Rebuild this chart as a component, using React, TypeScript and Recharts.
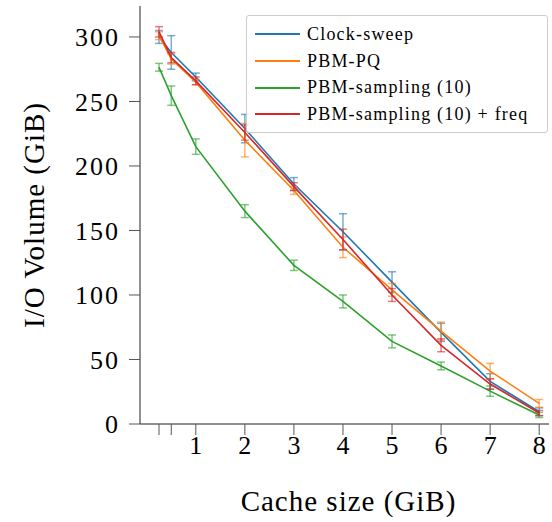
import { LineChart, Line, XAxis, YAxis, ErrorBar } from 'recharts';

// cache size in GiB
const cacheSizes = [0.25, 0.5, 1, 2, 3, 4, 5, 6, 7, 8];

// I/O volume (GiB), mean and error per cache size
const clockSweep = [300, 288, 269, 229, 186, 149, 110, 71, 33, 9.5];
const clockSweepErr = [5, 13, 3, 11, 5, 14, 8, 7, 6, 3];
const pbmPq = [301, 283, 265, 220, 181, 137, 104, 72, 41, 16];
const pbmPqErr = [3, 4, 2, 13, 3, 8, 5, 7, 6, 3];
const pbmSampling = [276.5, 254.5, 215, 165, 123, 95, 64, 45, 25.5, 7];
const pbmSamplingErr = [3, 7.5, 6, 5, 4, 5, 5, 3, 4, 2];
const pbmSamplingFreq = [304, 284, 266, 226, 184, 143, 100, 61, 31, 8.5];
const pbmSamplingFreqErr = [4, 4, 3, 6, 3, 8, 5, 5, 4, 2];

const xTicks = [0.25, 0.5, 1, 2, 3, 4, 5, 6, 7, 8];
const yTicks = [0, 50, 100, 150, 200, 250, 300];

const series = [
  { key: 'clock', name: 'Clock-sweep', color: '#1f77b4', values: clockSweep, err: clockSweepErr },
  { key: 'pq', name: 'PBM-PQ', color: '#ff7f0e', values: pbmPq, err: pbmPqErr },
  { key: 'sampling', name: 'PBM-sampling (10)', color: '#2ca02c', values: pbmSampling, err: pbmSamplingErr },
  { key: 'freq', name: 'PBM-sampling (10) + freq', color: '#d62728', values: pbmSamplingFreq, err: pbmSamplingFreqErr },
];

const data = cacheSizes.map((size, i) => {
  const row: Record<string, number> = { size };
  series.forEach((s) => {
    row[s.key] = s.values[i];
    row[s.key + 'Err'] = s.err[i];
  });
  return row;
});

const font = "'Liberation Serif', 'Times New Roman', serif";

const App = () => (
  <div style={{ position: 'absolute', left: 0, top: 0, width: 552, height: 522, background: '#fff' }}>
    <LineChart
      width={552}
      height={522}
      data={data}
      margin={{ top: 6, right: 3, left: 0, bottom: 0 }}
    >
      <XAxis
        dataKey="size"
        type="number"
        domain={[-0.1375, 8.2]}
        allowDataOverflow
        ticks={xTicks}
        interval={0}
        tickFormatter={(v: number) => (v < 1 ? '' : String(v))}
        tickSize={11}
        tickMargin={1}
        height={98}
        tick={{ fontFamily: font, fontSize: 26, fill: '#000' }}
        tickLine={{ stroke: '#555' }}
        axisLine={{ stroke: '#222' }}
        label={{
          value: 'Cache size (GiB)',
          position: 'insideBottom',
          offset: 11,
          dx: 4,
          style: { fontFamily: font, fontSize: 29, letterSpacing: 1, fill: '#000' },
        }}
      />
      <XAxis
        xAxisId="top"
        dataKey="size"
        type="number"
        orientation="top"
        domain={[-0.1375, 8.2]}
        height={0}
        tick={false}
        tickLine={false}
        axisLine={{ stroke: '#222' }}
      />
      <YAxis
        type="number"
        domain={[0, 324]}
        allowDataOverflow
        ticks={yTicks}
        interval={0}
        width={140}
        tickSize={11}
        tickMargin={9}
        tick={{ fontFamily: font, fontSize: 26, letterSpacing: 2, fill: '#000' }}
        tickLine={{ stroke: '#555' }}
        axisLine={{ stroke: '#222' }}
        label={{
          value: 'I/O Volume (GiB)',
          angle: -90,
          position: 'insideLeft',
          offset: 34,
          style: { fontFamily: font, fontSize: 29, letterSpacing: 1, fill: '#000', textAnchor: 'middle' },
        }}
      />
      {series.map((s) => (
        <Line
          key={s.key}
          dataKey={s.key}
          name={s.name}
          stroke={s.color}
          strokeWidth={1.6}
          dot={false}
          activeDot={false}
          isAnimationActive={false}
        >
          <ErrorBar
            dataKey={s.key + 'Err'}
            direction="y"
            width={4}
            stroke={s.color}
            strokeWidth={1.5}
            strokeOpacity={0.6}
          />
        </Line>
      ))}
    </LineChart>
    <div
      style={{
        position: 'absolute',
        left: 246,
        top: 15,
        width: 302,
        height: 118,
        boxSizing: 'border-box',
        border: '1px solid #ccc',
        borderRadius: 3,
        background: 'rgba(255,255,255,0.8)',
        padding: '5px 0 0 8px',
        fontFamily: font,
        fontSize: 18,
        letterSpacing: 1.2,
        color: '#000',
      }}
    >
      {series.map((s) => (
        <div key={s.key} style={{ display: 'flex', alignItems: 'center', height: 26.7, whiteSpace: 'nowrap' }}>
          <span style={{ display: 'inline-block', width: 45, height: 0, borderTop: `2px solid ${s.color}`, marginRight: 7 }} />
          <span>{s.name}</span>
        </div>
      ))}
    </div>
  </div>
);

export default App;
